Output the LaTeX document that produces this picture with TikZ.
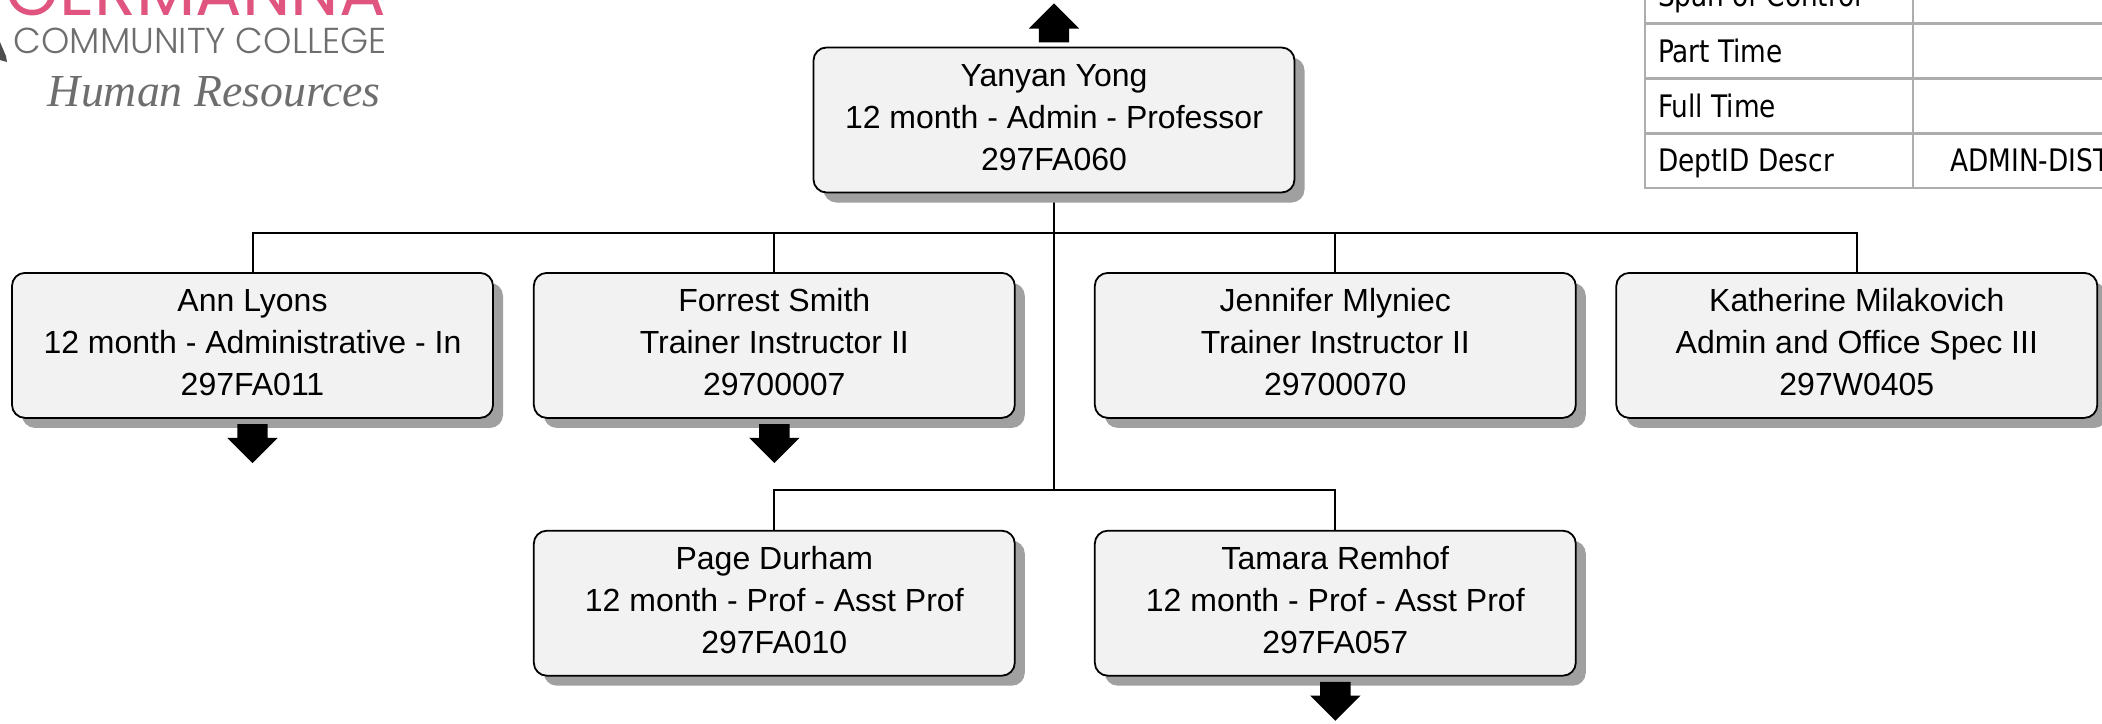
\documentclass[tikz,border=0pt]{standalone}
\usepackage{fontspec}
\setmainfont{Liberation Sans}
\newfontfamily\tablefont{DejaVu Sans Condensed}[FakeStretch=0.945]
\newfontfamily\logofont{Poppins}[UprightFont=* Light]
\newfontfamily\logopink{Poppins}
\newfontfamily\logoserif{Liberation Serif}
\usepackage{xcolor}
\usepackage{tikz}
\usetikzlibrary{positioning}
\usetikzlibrary{shadows}
\usetikzlibrary{shapes.arrows}
\usetikzlibrary{backgrounds}

\definecolor{boxfill}{HTML}{F2F2F2}
\definecolor{boxshadow}{HTML}{A0A0A0}
\definecolor{tablerule}{HTML}{ADADAD}
\definecolor{logorose}{HTML}{E0557F}
\definecolor{logogray}{HTML}{6E6E6E}

\tikzset{
    staff/.style={draw, line width=1.8pt, rounded corners=13pt, fill=boxfill,
        minimum width=481pt, minimum height=145pt, inner sep=0pt, align=center,
        text height=108pt, text depth=8pt, font=\fontsize{32}{42}\selectfont,
        drop shadow={shadow xshift=10pt, shadow yshift=-10pt, fill=boxshadow, opacity=1}},
    link/.style={line width=2pt},
    updown/.style={single arrow, fill=black, inner xsep=15pt, inner ysep=0pt, minimum height=39pt,
        single arrow head extend=10pt, single arrow tip angle=90, anchor=tail},
    rowlabel/.style={font=\tablefont\fontsize{31}{34}\selectfont, inner sep=0pt, anchor=base west},
    rowcell/.style={draw=tablerule, line width=2pt}
}

\begin{document}
\begin{tikzpicture}[x=1pt, y=1pt]
            \useasboundingbox (0,0) rectangle (2102,-723);
            \clip (0,0) rectangle (2102,-723);

            \node[staff] (yong) at (1054,-120) {Yanyan Yong\\12 month - Admin - Professor\\297FA060};
            \node[staff] (lyons) at (252.5,-345.4) {Ann Lyons\\12 month - Administrative - In\\297FA011};
            \node[staff, right=39pt of lyons] (smith) {Forrest Smith\\Trainer Instructor II\\29700007};
            \node[staff, right=78.2pt of smith] (mlyniec) {Jennifer Mlyniec\\Trainer Instructor II\\29700070};
            \node[staff, right=38.7pt of mlyniec] (milakovich) {Katherine Milakovich\\Admin and Office Spec III\\297W0405};
            \node[staff, below=111pt of smith] (durham) {Page Durham\\12 month - Prof - Asst Prof\\297FA010};
            \node[staff, below=111pt of mlyniec] (remhof) {Tamara Remhof\\12 month - Prof - Asst Prof\\297FA057};

            \coordinate (upperbus) at (yong.south |- 0,-233);
            \coordinate (lowerbus) at (yong.south |- 0,-489.5);

            \begin{scope}[on background layer]
                \draw[link] (yong.south) -- (lowerbus);
                \draw[link] (lyons.north) |- (upperbus) -| (milakovich.north);
                \draw[link] (smith.north) |- (upperbus);
                \draw[link] (mlyniec.north) |- (upperbus);
                \draw[link] (durham.north) |- (lowerbus) -| (remhof.north);
            \end{scope}

            \node[updown, shape border rotate=90] (upyong) at ([yshift=4pt]yong.north) {};
            \node[updown, shape border rotate=270] (downlyons) at ([yshift=-5pt]lyons.south) {};
            \node[updown, shape border rotate=270] (downsmith) at ([yshift=-5pt]smith.south) {};
            \node[updown, shape border rotate=270] (downremhof) at ([yshift=-5pt]remhof.south) {};

            \foreach \rowtop/\rowname/\rowtext in {-31/span/Span of Control, 24.3/part/Part Time, 79.3/full/Full Time, 134/dept/DeptID Descr} {
                \draw[rowcell] (1645,-\rowtop) rectangle (1913,-\rowtop-54);
                \draw[rowcell] (1913,-\rowtop) rectangle (2120,-\rowtop-54);
                \node[rowlabel] (\rowname) at (1658,-\rowtop-37.7) {\rowtext};
            }
            \node[rowlabel] (deptvalue) at (1950,-171.7) {ADMIN-DIST};

            \node[font=\logopink\fontsize{69}{69}\selectfont, text=logorose, anchor=base east, inner sep=0pt] (germanna) at (386,-15) {GERMANNA};
            \node[font=\logofont\fontsize{36}{38}\selectfont, text=logogray, anchor=base east, inner sep=0pt] (community) at (387,-53) {COMMUNITY COLLEGE};
            \node[font=\logoserif\itshape\fontsize{45.8}{46}\selectfont, text=logogray, anchor=base east, inner sep=0pt] (resources) at (381,-106) {Human Resources};
            \fill[logogray!70!black] (0,-42) -- (6,-56) -- (7,-62) -- (0,-60) -- cycle;
        \end{tikzpicture}
\end{document}
